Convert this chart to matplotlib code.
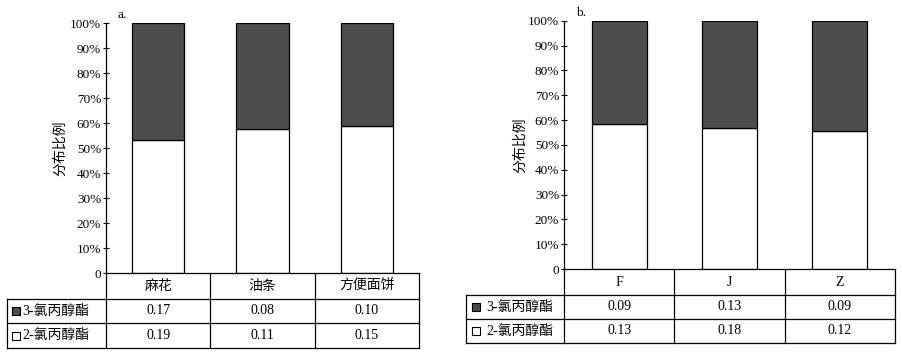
import matplotlib.pyplot as plt
from matplotlib.patches import Rectangle

plt.rcParams['font.family'] = ['Liberation Serif', 'Noto Sans CJK SC']

# data
cats_a = ['麻花', '油条', '方便面饼']
ester3_a = ['0.17', '0.08', '0.10']
ester2_a = ['0.19', '0.11', '0.15']
share2_a = [53.2, 57.7, 59.0]   # % of 2-氯丙醇酯 (white part)

cats_b = ['F', 'J', 'Z']
ester3_b = ['0.09', '0.13', '0.09']
ester2_b = ['0.13', '0.18', '0.12']
share2_b = [58.5, 56.9, 55.7]

row_names = ['3-氯丙醇酯', '2-氯丙醇酯']
dark = '#4d4d4d'

W, H = 902, 354
fig = plt.figure(figsize=(W / 100, H / 100), dpi=100)
over = fig.add_axes([0, 0, 1, 1], zorder=5)
over.set_xlim(0, W)
over.set_ylim(H, 0)
over.axis('off')


def panel(left, right, top, bottom, lab_left, rows_y, cats, r3, r2, share2, tag, ylab_x, marker_x, text_x):
    ax = fig.add_axes([left / W, 1 - bottom / H, (right - left) / W, (bottom - top) / H])
    x = range(len(cats))
    share3 = [100 - s for s in share2]
    ax.bar(x, share2, width=0.5, color='white', edgecolor='black', linewidth=0.9)
    ax.bar(x, share3, bottom=share2, width=0.5, color=dark, edgecolor='black', linewidth=0.9)
    ax.set_xlim(-0.5, len(cats) - 0.5)
    ax.set_ylim(0, 100)
    ax.set_yticks(range(0, 101, 10))
    ax.set_yticklabels(['0'] + ['%d%%' % v for v in range(10, 101, 10)], fontsize=9.5)
    ax.tick_params(axis='y', direction='inout', length=5, width=0.8, pad=1)
    ax.set_xticks([])
    for s in ['top', 'right', 'bottom']:
        ax.spines[s].set_visible(False)
    ax.spines['left'].set_linewidth(0.9)
    ax.patch.set_alpha(0)

    # table grid (pixel coords on the overlay axes)
    lw = 0.9
    h0, h1, h2, h3 = rows_y
    over.plot([left, right], [h0, h0], color='black', lw=lw)
    over.plot([lab_left, right], [h1, h1], color='black', lw=lw)
    over.plot([lab_left, right], [h2, h2], color='black', lw=lw)
    over.plot([lab_left, right], [h3, h3], color='black', lw=lw)
    over.plot([lab_left, lab_left], [h1, h3], color='black', lw=lw)
    over.plot([left, left], [h0, h3], color='black', lw=lw)
    n = len(cats)
    colw = (right - left) / n
    for i in range(1, n + 1):
        xx = left + i * colw
        over.plot([xx, xx], [h0, h3], color='black', lw=lw)
    for i in range(n):
        cx = left + (i + 0.5) * colw
        over.text(cx, (h0 + h1) / 2, cats[i], ha='center', va='center', fontsize=10)
        over.text(cx, (h1 + h2) / 2, r3[i], ha='center', va='center', fontsize=10)
        over.text(cx, (h2 + h3) / 2, r2[i], ha='center', va='center', fontsize=10)
    for j, (yy0, yy1, fc) in enumerate([(h1, h2, dark), (h2, h3, 'white')]):
        cy = (yy0 + yy1) / 2
        over.add_patch(Rectangle((marker_x, cy - 4), 8, 8, facecolor=fc, edgecolor='black', lw=0.8))
        over.text(text_x, cy, row_names[j], ha='left', va='center', fontsize=10)

    over.text(left + 12, top - 8, tag, ha='left', va='center', fontsize=9.5)
    over.text(ylab_x, (top + bottom) / 2, '分布比例', rotation=90, ha='center', va='center', fontsize=10)


panel(106, 419, 23.3, 273.3, 7, (273.3, 299, 323, 348), cats_a, ester3_a, ester2_a, share2_a,
      'a.', 60, 12, 22)
panel(564, 895, 20.7, 269, 466, (269, 295, 319, 343), cats_b, ester3_b, ester2_b, share2_b,
      'b.', 520, 472, 486)

fig.savefig('out.png', dpi=100)
